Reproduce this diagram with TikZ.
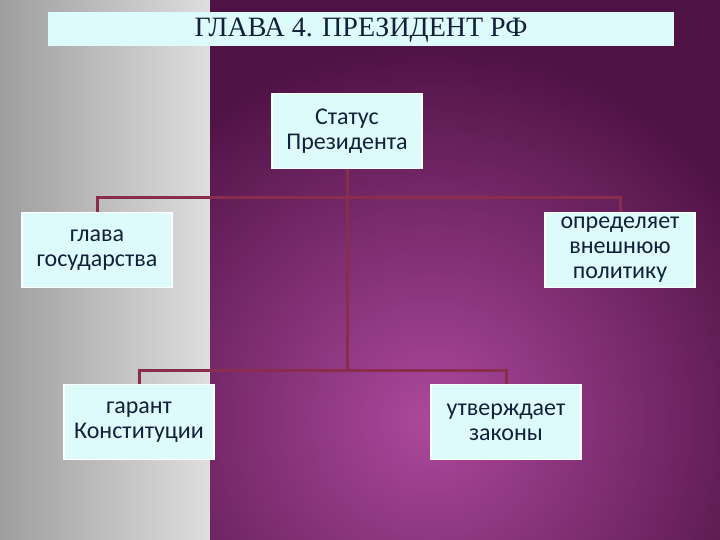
\documentclass[tikz,border=0pt]{standalone}
\usepackage{fontspec}
\setmainfont{Liberation Serif}
\newfontfamily\boxfont{Carlito}
\begin{document}
\begin{tikzpicture}[x=1pt,y=-1pt,
  box/.style={draw=white,line width=1.2pt,fill=boxcyan,minimum width=150pt,minimum height=75pt,
    align=center,inner sep=2pt,font=\boxfont\fontsize{24}{25}\selectfont,text=textnavy},
  link/.style={draw=linkred,line width=3pt}]
\definecolor{boxcyan}{HTML}{DDFBFB}
\definecolor{textnavy}{HTML}{12203A}
\definecolor{linkred}{HTML}{8A2C4C}
\useasboundingbox (0,0) rectangle (720,540);
% gray strip
\shade[left color=black!38,right color=black!13] (0,0) rectangle (210,540);
% purple area
\begin{scope}
\clip (210,0) rectangle (720,540);
\fill[color={rgb,255:red,78;green,18;blue,68}] (210,0) rectangle (720,540);
\shade[inner color={rgb,255:red,172;green,72;blue,156},outer color={rgb,255:red,78;green,18;blue,68}] (430,420) circle (380);
\end{scope}
% title
\node[fill=boxcyan,minimum width=626pt,minimum height=34pt,inner sep=0pt,anchor=north west] (title) at (48,12) {};
\node[font=\fontsize{28}{29}\selectfont,text=textnavy] (tt) at (361,30) {ГЛАВА 4. ПРЕЗИДЕНТ РФ};
% boxes
\node[box] (st) at (347,131) {Статус\\Президента};
\node[box] (gl) at (97,250) {глава\\государства};
\node[box] (op) at (620,250) {определяет\\внешнюю\\политику};
\node[box] (ga) at (139,422) {гарант\\Конституции};
\node[box] (ut) at (506,422) {утверждает\\законы};
\coordinate (j1) at (347,198);
\coordinate (j2) at (347,370);
% connectors
\draw[link] (st.south) -- (j2);
\draw[link] (gl.north) -- (gl.north |- j1) -- (op.north |- j1) -- (op.north);
\draw[link] (ga.north) -- (ga.north |- j2) -- (ut.north |- j2) -- (ut.north);
\end{tikzpicture}
\end{document}
